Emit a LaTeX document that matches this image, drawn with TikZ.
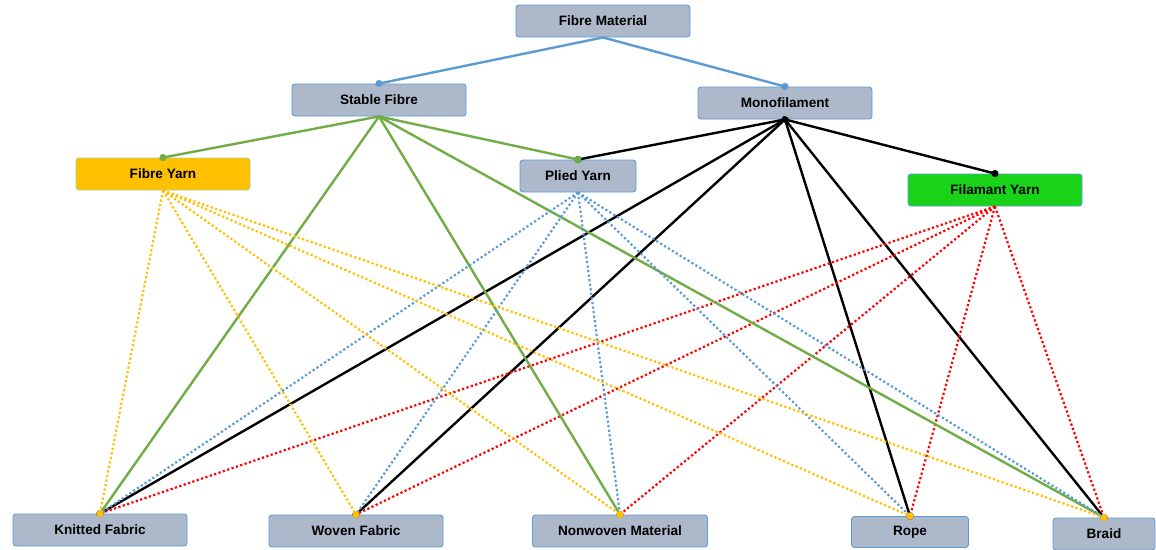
\documentclass[tikz,border=0pt]{standalone}
\usepackage{fontspec}
\setmainfont{Liberation Sans}
\usetikzlibrary{arrows.meta}
\definecolor{boxgray}{HTML}{ADB9CA}
\definecolor{lineblue}{HTML}{5B9BD5}
\definecolor{linegreen}{HTML}{70AD47}
\definecolor{lineorange}{HTML}{FFC000}
\definecolor{palegreen}{HTML}{A9D18E}
\definecolor{brightgreen}{HTML}{18D318}
\tikzstyle{block} = [draw=lineblue, fill=boxgray, rectangle, rounded corners=3pt, line width=0.9pt, minimum height=32pt, minimum width=174pt, inner sep=0pt, font=\fontsize{13.6}{15}\selectfont\bfseries]
\tikzstyle{link} = [line width=2.4pt, -{Circle[length=7pt]}, shorten >=-3.5pt]
\tikzstyle{dots} = [link, line width=2.2pt, dash pattern=on 2.2pt off 2.4pt]

\begin{document}
\begin{tikzpicture}[x=1pt,y=-1pt]
  \useasboundingbox (0,0) rectangle (1156,549);
  % top levels
  \node [block] (material) at (603,21) {Fibre Material};
  \node [block] (staple) at (379,100) {Stable Fibre};
  \node [block] (mono) at (785,103) {Monofilament};
  \node [block, fill=lineorange, draw=palegreen] (fibreyarn) at (163,174) {Fibre Yarn};
  \node [block, minimum width=116pt] (plied) at (578,176) {Plied Yarn};
  \node [block, fill=brightgreen] (filyarn) at (995,190) {Filamant Yarn};
  % products
  \node [block] (knitted) at (100,530) {Knitted Fabric};
  \node [block] (woven) at (356,531) {Woven Fabric};
  \node [block, minimum width=175pt] (nonwoven) at (620,531) {Nonwoven Material};
  \node [block, minimum width=117pt, minimum height=31pt] (rope) at (910,532) {Rope};
  \node [block, minimum width=102pt] (braid) at (1104,534) {Braid};

  \draw [link, lineblue] (material.south) -- (staple.north);
  \draw [link, lineblue] (material.south) -- (mono.north);

  \foreach \t in {plied, filyarn, knitted, woven, rope, braid}
    \draw [link, {Circle[length=6pt]}-{Circle[length=7pt]}, shorten <=-3pt, black] (mono.south) -- (\t.north);
  \foreach \t in {knitted, woven, nonwoven, rope, braid}
    \draw [dots, red] (filyarn.south) -- (\t.north);
  \foreach \t in {fibreyarn, plied, knitted, nonwoven, braid}
    \draw [link, linegreen] (staple.south) -- (\t.north);
  \foreach \t in {knitted, woven, nonwoven, rope, braid}
    \draw [dots, lineblue] (plied.south) -- (\t.north);
  \foreach \t in {knitted, woven, nonwoven, rope, braid}
    \draw [dots, lineorange] (fibreyarn.south) -- (\t.north);
\end{tikzpicture}
\end{document}
